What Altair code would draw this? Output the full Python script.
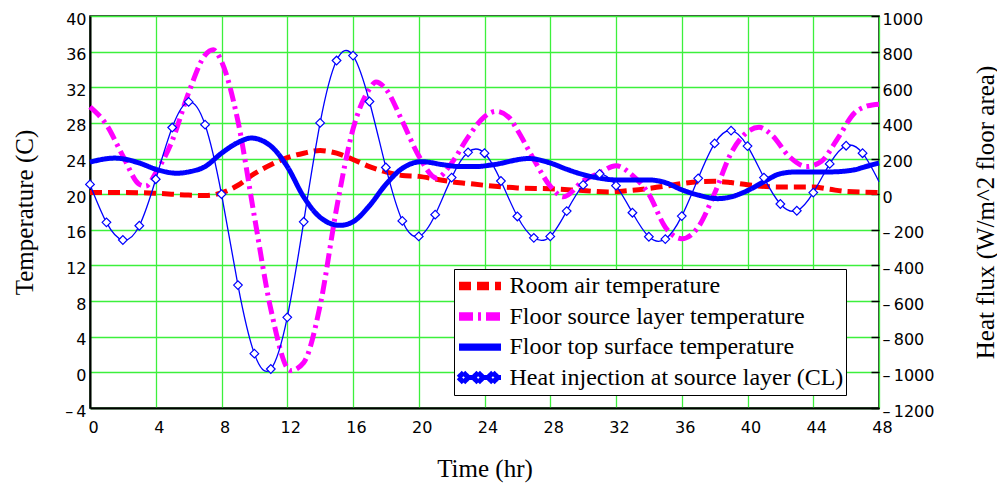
import altair as alt
import pandas as pd

# ---------------- data ----------------
series_names = [
    "Room air temperature",
    "Floor source layer temperature",
    "Floor top surface temperature",
    "Heat injection at source layer (CL)",
]

# Room air temperature (C)
air_t = [0, 2, 4, 6, 7, 8, 9, 10, 11, 12, 13, 14, 15, 16, 17, 18, 19, 20, 21, 22, 23, 24,
         26, 28, 30, 31.5, 33, 34, 35, 36, 37, 38, 39, 40, 42, 44, 45, 46, 48]
air_v = [20.2, 20.2, 20.1, 19.9, 19.85, 20.15, 21.0, 22.3, 23.3, 24.1, 24.6, 24.9, 24.6, 23.9,
         23.1, 22.5, 22.1, 22.0, 21.7, 21.4, 21.2, 21.0, 20.7, 20.6, 20.4, 20.25, 20.45, 20.65,
         20.9, 21.2, 21.4, 21.45, 21.3, 21.05, 20.8, 20.8, 20.55, 20.3, 20.2]

# Floor source layer temperature (C)
src_t = [0, 1, 2, 3, 3.4, 4, 5, 6, 7, 7.5, 8, 9, 10, 11, 12.2, 13, 14, 15, 16, 17, 17.4, 18,
         19, 20, 21.1, 22, 23, 24, 24.7, 25.5, 26, 27, 28, 28.8, 30, 31, 32, 33, 34, 35, 36,
         37, 38, 39, 40, 40.7, 41.5, 42.5, 43.6, 44.5, 45.5, 46.5, 47.3, 48]
src_v = [29.8, 27.8, 24.3, 21.1, 20.9, 22.4, 26.0, 31.4, 35.6, 36.2, 34.9, 28.2, 17.5, 7.1,
         0.2, 1.1, 7.5, 18.4, 27.3, 31.8, 32.6, 31.8, 28.2, 24.3, 21.8, 23.5, 26.4, 28.7, 29.3,
         28.6, 27.2, 23.9, 20.9, 19.7, 21.5, 22.4, 23.2, 22.1, 20.0, 16.3, 15.0, 16.3, 20.1,
         24.6, 27.0, 27.5, 26.6, 24.3, 23.1, 23.7, 26.3, 29.1, 29.9, 30.1]

# Floor top surface temperature (C)
top_t = [0, 1.5, 3, 4, 5.3, 6, 7, 8, 9, 9.8, 11, 12, 13, 14, 15.2, 16, 17, 18, 19, 20.2,
         21.5, 22.5, 23.5, 24.5, 26.7, 28, 29, 30, 31, 32, 34, 35, 36, 37, 38.2, 39, 40, 41,
         42, 43, 45, 46.4, 47.2, 48]
top_v = [23.6, 24.05, 23.5, 22.8, 22.35, 22.5, 23.1, 24.6, 25.8, 26.3, 25.4, 23.1, 19.7,
         17.4, 16.5, 16.9, 18.7, 21.1, 22.9, 23.65, 23.3, 23.1, 23.1, 23.3, 24.0, 23.5, 22.8,
         22.2, 21.8, 21.6, 21.6, 21.3, 20.5, 19.9, 19.5, 19.7, 20.4, 21.4, 22.3, 22.5, 22.5,
         22.7, 23.1, 23.5]

# Heat injection at source layer (W/m^2), hourly
heat_t = list(range(0, 49))
heat_v = [55, -158, -257, -177, 84, 374, 518, 390, 0, -510, -895, -981, -691, -155, 400,
          750, 778, 520, 150, -150, -237, -115, 93, 235, 230, 74, -125, -245, -237, -95, 52,
          114, 48, -104, -239, -252, -123, 89, 285, 357, 270, 93, -55, -93, 9, 170, 272, 230,
          70]

x_ticks = list(range(0, 49, 4))
temp_ticks = list(range(-4, 41, 4))
heat_ticks = list(range(-1200, 1001, 200))

# ---------------- styles ----------------
colors = ["#ff0000", "#ff00ff", "#0000ff", "#0000ff"]
dashes = [[12, 6], [14, 5, 3, 5], [1, 0], [1, 0]]
widths = [5, 5, 3.5, 1.3]


def _bundle(offsets):
    # several parallel strokes give a thick legend line with a thin symbol stroke
    return "".join(f"M-1.4,{o}L1.4,{o}" for o in offsets)


def _diamond(c, d):
    # diamond outline as four separate segments (zero area, never filled)
    pts = [(round(c - d, 3), 0), (c, -d), (round(c + d, 3), 0), (c, d)]
    segs = []
    for i in range(4):
        a, b = pts[i], pts[(i + 1) % 4]
        segs.append(f"M{a[0]},{a[1]}L{b[0]},{b[1]}")
    return "".join(segs)


thick_path = _bundle([-0.12, -0.04, 0.04, 0.12])
mid_path = _bundle([-0.075, 0, 0.075])
heat_path = ("M-0.77,0L-0.45,0M0.21,0L0.53,0M1.19,0L1.4,0"
             + "".join(_diamond(c, 0.33) for c in (-1.1, -0.12, 0.86)))
shapes = [thick_path, thick_path, mid_path, heat_path]

temp_df = pd.concat([
    pd.DataFrame({"t": air_t, "temp": air_v, "series": series_names[0]}),
    pd.DataFrame({"t": src_t, "temp": src_v, "series": series_names[1]}),
    pd.DataFrame({"t": top_t, "temp": top_v, "series": series_names[2]}),
], ignore_index=True)
heat_df = pd.DataFrame({"t": heat_t, "heat": heat_v})

minus_expr = ("datum.value < 0 ? '\u2013\u2009' + format(-datum.value, 'd') : "
              "format(datum.value, 'd')")

x_enc = alt.X(
    "t:Q",
    scale=alt.Scale(domain=[0, 48], nice=False, zero=False),
    axis=alt.Axis(values=x_ticks, title="Time (hr)", grid=True, ticks=False, tickSize=0,
                  labelPadding=11, labelOffset=3, labelFlush=False, labelOverlap=False,
                  format="d", titleX=394.5, titleY=60, titleBaseline="middle",
                  titleAlign="center"),
)

temp_y = alt.Y(
    "temp:Q", scale=alt.Scale(domain=[-4, 40], nice=False, zero=False),
    axis=alt.Axis(values=temp_ticks, title="Temperature (C)", grid=True, ticks=False,
                  tickSize=0, labelPadding=4, labelOffset=3, labelExpr=minus_expr,
                  titleX=-66, titleY=196, titleAngle=270, titleBaseline="middle",
                  titleAlign="center"),
)

legend = alt.Legend(
    title=None, orient="none", legendX=364, legendY=253, direction="vertical",
    fillColor="white", strokeColor="black", padding=2,
    symbolSize=900, symbolOffset=6.5, symbolFillColor="transparent",
    symbolStrokeWidth=1.3, symbolOpacity=1,
    clipHeight=30, rowPadding=0.5,
    labelFont="Liberation Serif", labelFontSize=24, labelColor="black",
    labelOffset=12, labelLimit=600,
)

temp_lines = alt.Chart(temp_df).mark_line(
    interpolate="monotone", strokeJoin="round", opacity=1
).encode(
    x=x_enc,
    y=temp_y,
    color=alt.Color("series:N", scale=alt.Scale(domain=series_names, range=colors),
                    legend=legend),
    strokeDash=alt.StrokeDash("series:N", scale=alt.Scale(domain=series_names, range=dashes),
                              legend=legend),
    strokeWidth=alt.StrokeWidth("series:N", scale=alt.Scale(domain=series_names, range=widths),
                                legend=None),
)

# legend-only layer: supplies the per-entry symbol shapes (no visible data)
legend_shapes = alt.Chart(temp_df).transform_filter("false").mark_point(
    opacity=1, filled=False
).encode(
    x=x_enc,
    y=temp_y,
    shape=alt.Shape("series:N", scale=alt.Scale(domain=series_names, range=shapes),
                    legend=legend),
)

heat_y = alt.Y(
    "heat:Q",
    scale=alt.Scale(domain=[-1200, 1000], nice=False, zero=False),
    axis=alt.Axis(orient="right", values=heat_ticks, title="Heat flux (W/m^2 floor area)",
                  grid=False, domain=False, ticks=True, tickSize=8, tickColor="black",
                  tickWidth=1.5, offset=-8, labelPadding=3, labelOffset=3, labelAlign="left",
                  labelExpr=minus_expr, titleX=114, titleY=196, titleAngle=270,
                  titleBaseline="middle", titleAlign="center"),
)

heat_line = alt.Chart(heat_df).mark_line(
    interpolate="natural", color="#0000ff", strokeWidth=1.3
).encode(x=x_enc, y=heat_y)

heat_pts = alt.Chart(heat_df).transform_filter("datum.t < 48").mark_point(
    shape="diamond", filled=True, fill="white", stroke="#0000ff", strokeWidth=1.2,
    size=75, opacity=1
).encode(x=x_enc, y=heat_y)

chart = alt.layer(
    alt.layer(temp_lines, legend_shapes), alt.layer(heat_line, heat_pts)
).resolve_scale(
    y="independent"
).properties(
    width=789, height=392,
    padding={"left": 90, "top": 16, "right": 118, "bottom": 77},
    autosize=alt.AutoSizeParams(type="none"),
    background="white",
).configure_view(
    stroke="black", strokeWidth=1.5
).configure_axis(
    domainColor="black", domainWidth=2, gridColor="#3cf03c", gridWidth=1.3,
    labelFont="DejaVu Sans", labelFontSize=16, labelColor="black",
    titleFont="Liberation Serif", titleFontSize=25, titleFontWeight="normal",
    titleColor="black",
)

chart.save("out.html", embed_options={"renderer": "svg", "actions": False})
